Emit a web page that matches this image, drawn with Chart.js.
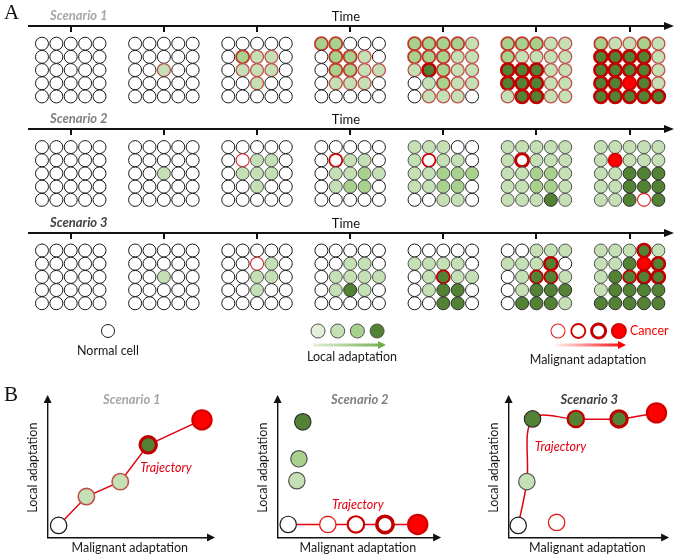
<!DOCTYPE html>
<html>
<head>
<meta charset="utf-8">
<script src="https://cdn.jsdelivr.net/npm/chart.js@4.4.0/dist/chart.umd.min.js"></script>
<style>
  html, body { margin: 0; padding: 0; background: #fff; }
  #wrap { position: relative; width: 678px; height: 556px; overflow: hidden; }
  canvas { position: absolute; }
</style>
</head>
<body>
<div id="wrap">
  <canvas id="chartA" width="678" height="372" style="left:0;top:0"></canvas>
  <canvas id="chartB1" width="225" height="176" style="left:0;top:380px"></canvas>
  <canvas id="chartB2" width="225" height="176" style="left:225px;top:380px"></canvas>
  <canvas id="chartB3" width="228" height="176" style="left:450px;top:380px"></canvas>
</div>
<script>
// ---- data: panel A, cell states per time step (5 rows x 5 cols) ----
// o normal, l/m/d light/mid/dark green, L/M light/mid green red rim,
// D dark green thick red rim, E dark green thin red rim,
// x/z/y red ring thin/medium/thick, R cancer
const timeSteps = [0, 1, 2, 3, 4, 5, 6];
const scenarioNames = ['Scenario 1', 'Scenario 2', 'Scenario 3'];
const scenarioColors = ['#a6a6a6', '#7f7f7f', '#404040'];

const blank = ['ooooo', 'ooooo', 'ooooo', 'ooooo', 'ooooo'];

const scenario1 = [
  blank,
  ['ooooo', 'ooooo', 'ooLoo', 'ooooo', 'ooooo'],
  ['ooooo', 'oMLLo', 'oLLLo', 'ooLoo', 'ooooo'],
  ['MMooo', 'oMMLo', 'oMMLL', 'oLLLo', 'ooooo'],
  ['MMMML', 'MMMLL', 'LDMLL', 'olMLL', 'oLLLo'],
  ['MMMLL', 'MLLLL', 'DDDLL', 'DDDLL', 'LDDLL'],
  ['MLLML', 'DDDDL', 'DDDDL', 'DDRDL', 'DDDDD']
];

const scenario2 = [
  blank,
  ['ooooo', 'ooooo', 'ooloo', 'ooooo', 'ooooo'],
  ['ooooo', 'oxllo', 'olllo', 'ooloo', 'ooooo'],
  ['ooooo', 'ozllo', 'ollml', 'olmmo', 'ooooo'],
  ['llloo', 'lzllo', 'llmmm', 'llmmo', 'oollo'],
  ['lllll', 'lylll', 'llmml', 'llmml', 'llldl'],
  ['lllll', 'lRlll', 'llddd', 'llddd', 'lldxd']
];

const scenario3 = [
  blank,
  ['ooooo', 'ooooo', 'ooloo', 'ooooo', 'ooooo'],
  ['ooooo', 'ooxlo', 'oollo', 'ooloo', 'ooooo'],
  ['ooooo', 'oollo', 'ollll', 'oldlo', 'ooooo'],
  ['ooooo', 'llllo', 'olEll', 'olddo', 'ooddo'],
  ['oolll', 'lllDo', 'olEEl', 'olddd', 'odddl'],
  ['lllDl', 'lldRD', 'ldEDD', 'ldddd', 'ddddd']
];

// ---- data: panel B trajectories ----
const b1Malignant = [0.67, 2.36, 4.42, 6.12, 9.39];
const b1Local = [0.86, 2.93, 4.0, 6.64, 8.43];
const b1Cells = ['o', 'L', 'L', 'D', 'R'];

const b2GreenMalignant = [1.57, 1.33, 1.2];
const b2GreenLocal = [8.29, 5.64, 4.07];
const b2GreenCells = ['d', 'm', 'l'];
const b2Malignant = [0.66, 3.13, 4.88, 6.69, 8.73];
const b2Local = [0.93, 0.93, 0.93, 0.93, 0.93];
const b2Cells = ['o', 'x', 'z', 'y', 'R'];

const b3Malignant = [0.61, 1.16, 1.52, 4.27, 7.01, 9.39];
const b3Local = [0.86, 4.0, 8.5, 8.5, 8.5, 8.93];
const b3Cells = ['o', 'l', 'd', 'E', 'D', 'R'];
const b3RingMalignant = [3.05];
const b3RingLocal = [1.07];
const b3RingCells = ['x'];

// ---- styles ----
const cellStyles = {
  o: { fill: '#ffffff', line: '#1a1a1a', w: 1 },
  l: { fill: '#c5e0b4', line: '#505050', w: 1 },
  m: { fill: '#a9d18e', line: '#505050', w: 1 },
  d: { fill: '#548235', line: '#2e2e2e', w: 1 },
  L: { fill: '#c5e0b4', line: '#c0504d', w: 1.3 },
  M: { fill: '#a9d18e', line: '#c0392b', w: 1.8 },
  D: { fill: '#548235', line: '#c00000', w: 2.6 },
  E: { fill: '#548235', line: '#c00000', w: 1.8 },
  x: { fill: '#ffffff', line: '#e02020', w: 1.1 },
  z: { fill: '#ffffff', line: '#d00000', w: 1.8 },
  y: { fill: '#ffffff', line: '#c00000', w: 3 },
  R: { fill: '#ff0000', line: '#d40000', w: 2 }
};
const styleOf = c => cellStyles[(c.raw && c.raw.code) || 'o'];

const FONT = 'Lato, "Open Sans", sans-serif';
const SCEN_GAP = 7.84;
const COL_STEP = 0.1544;
const X_MIN = -0.6574, X_MAX = 6.4176;
const Y_MIN = -2.59, Y_MAX = 24.17;

function gridPoints(grids, s) {
  const pts = [];
  grids.forEach((rows, t) => {
    rows.forEach((row, r) => {
      [...row].forEach((code, c) => {
        pts.push({ x: timeSteps[t] + (c - 2) * COL_STEP, y: s * SCEN_GAP + r, code });
      });
    });
  });
  return pts;
}

const timeAxes = {
  id: 'timeAxes',
  beforeDatasetsDraw(chart) {
    const { ctx, scales: { x, y } } = chart;
    ctx.save();
    scenarioNames.forEach((name, s) => {
      const ay = Math.round(y.getPixelForValue(s * SCEN_GAP)) - 18;
      ctx.strokeStyle = '#111';
      ctx.lineWidth = 2;
      ctx.beginPath();
      ctx.moveTo(28, ay);
      ctx.lineTo(666, ay);
      ctx.stroke();
      ctx.fillStyle = '#111';
      ctx.beginPath();
      ctx.moveTo(674, ay);
      ctx.lineTo(664, ay - 4);
      ctx.lineTo(664, ay + 4);
      ctx.closePath();
      ctx.fill();
      timeSteps.forEach(t => {
        const tx = Math.round(x.getPixelForValue(t));
        ctx.beginPath();
        ctx.moveTo(tx, ay);
        ctx.lineTo(tx, ay + 6);
        ctx.stroke();
      });
      ctx.textBaseline = 'middle';
      ctx.textAlign = 'left';
      ctx.font = 'italic bold 13px ' + FONT;
      ctx.fillStyle = scenarioColors[s];
      ctx.fillText(name, 50, ay - 10);
      ctx.textAlign = 'center';
      ctx.font = '13px ' + FONT;
      ctx.fillStyle = '#111';
      ctx.fillText('Time', 346, ay - 9.5);
    });
    ctx.font = '21px "Liberation Serif", serif';
    ctx.textAlign = 'left';
    ctx.fillText('A', 4, 13);
    ctx.restore();
  }
};

function dot(ctx, cx, cy, r, fill, line, w) {
  ctx.beginPath();
  ctx.arc(cx, cy, r, 0, Math.PI * 2);
  ctx.fillStyle = fill;
  ctx.fill();
  ctx.lineWidth = w;
  ctx.strokeStyle = line;
  ctx.stroke();
}

function gradArrow(ctx, x0, x1, y, c0, c1) {
  const g = ctx.createLinearGradient(x0, 0, x1, 0);
  g.addColorStop(0, c0);
  g.addColorStop(1, c1);
  ctx.fillStyle = g;
  ctx.fillRect(x0, y - 1.5, x1 - x0 - 7, 3);
  ctx.beginPath();
  ctx.moveTo(x1, y);
  ctx.lineTo(x1 - 8, y - 4);
  ctx.lineTo(x1 - 8, y + 4);
  ctx.closePath();
  ctx.fillStyle = c1;
  ctx.fill();
}

const legendKey = {
  id: 'legendKey',
  afterDraw(chart) {
    const ctx = chart.ctx;
    ctx.save();
    dot(ctx, 108, 331, 6.5, '#fff', '#1a1a1a', 1);
    ['#e2efda', '#c5e0b4', '#a9d18e', '#548235'].forEach((f, i) => {
      dot(ctx, 318 + i * 19.7, 331, 7, f, '#505050', 1);
    });
    gradArrow(ctx, 313, 386, 345, '#e2efda', '#70ad47');
    ['x', 'z', 'y', 'R'].forEach((k, i) => {
      const st = cellStyles[k];
      dot(ctx, 558 + i * 20.3, 331, 7, st.fill, st.line, st.w);
    });
    gradArrow(ctx, 555, 626, 345, '#fff4f4', '#ff0000');
    ctx.textBaseline = 'middle';
    ctx.font = '12.5px ' + FONT;
    ctx.fillStyle = '#1a1a1a';
    ctx.textAlign = 'center';
    ctx.fillText('Normal cell', 108, 351);
    ctx.fillText('Local adaptation', 352, 357);
    ctx.fillText('Malignant adaptation', 588, 360);
    ctx.textAlign = 'left';
    ctx.fillStyle = '#ff0000';
    ctx.fillText('Cancer', 630, 331);
    ctx.restore();
  }
};

new Chart(document.getElementById('chartA'), {
  type: 'scatter',
  data: {
    datasets: [scenario1, scenario2, scenario3].map((g, s) => ({
      data: gridPoints(g, s),
      pointRadius: 6.5,
      pointBackgroundColor: c => styleOf(c).fill,
      pointBorderColor: c => styleOf(c).line,
      pointBorderWidth: c => styleOf(c).w,
      clip: false
    }))
  },
  options: {
    responsive: false,
    animation: false,
    events: [],
    layout: { padding: 0 },
    scales: {
      x: { type: 'linear', display: false, min: X_MIN, max: X_MAX },
      y: { type: 'linear', display: false, reverse: true, min: Y_MIN, max: Y_MAX }
    },
    plugins: { legend: { display: false }, tooltip: { enabled: false } }
  },
  plugins: [timeAxes, legendKey]
});

// ---- panel B ----
function series(xs, ys, cells) {
  return xs.map((v, i) => ({ x: v, y: ys[i], code: cells[i] }));
}

function markDataset(points, withLine, tension) {
  return {
    data: points,
    showLine: withLine,
    borderColor: '#e3000f',
    borderWidth: 1.5,
    tension: tension || 0,
    pointRadius: c => (c.raw && c.raw.code === 'R') ? 9.5 : 8.2,
    pointBackgroundColor: c => styleOf(c).fill,
    pointBorderColor: c => styleOf(c).line,
    pointBorderWidth: c => styleOf(c).w * 1.2,
    clip: false
  };
}

function panelDecor(title, titleColor, trajAt, showB) {
  return {
    id: 'panelDecor',
    afterDraw(chart) {
      const { ctx, chartArea: a, scales: { x, y } } = chart;
      ctx.save();
      ctx.fillStyle = '#111';
      ctx.beginPath();
      ctx.moveTo(a.right + 3, a.bottom);
      ctx.lineTo(a.right - 5, a.bottom - 4);
      ctx.lineTo(a.right - 5, a.bottom + 4);
      ctx.closePath();
      ctx.fill();
      ctx.beginPath();
      ctx.moveTo(a.left, a.top - 3);
      ctx.lineTo(a.left - 4, a.top + 5);
      ctx.lineTo(a.left + 4, a.top + 5);
      ctx.closePath();
      ctx.fill();
      ctx.textBaseline = 'middle';
      ctx.textAlign = 'center';
      ctx.font = 'italic bold 13px ' + FONT;
      ctx.fillStyle = titleColor;
      ctx.fillText(title, (a.left + a.right) / 2 + 2, 20);
      ctx.font = 'italic 12.5px ' + FONT;
      ctx.fillStyle = '#e3000f';
      ctx.fillText('Trajectory', x.getPixelForValue(trajAt[0]), y.getPixelForValue(trajAt[1]));
      if (showB) {
        ctx.font = '21px "Liberation Serif", serif';
        ctx.fillStyle = '#111';
        ctx.textAlign = 'left';
        ctx.fillText('B', 4, 15);
      }
      ctx.restore();
    }
  };
}

function makePanel(id, datasets, padLeft, padRight, decor) {
  return new Chart(document.getElementById(id), {
    type: 'scatter',
    data: { datasets },
    options: {
      responsive: false,
      animation: false,
      events: [],
      layout: { padding: { left: padLeft, right: padRight, top: 18, bottom: 1 } },
      scales: {
        x: {
          type: 'linear', min: 0, max: 10,
          grid: { display: false, drawTicks: false },
          border: { display: true, color: '#111', width: 1.4 },
          ticks: { display: false },
          title: { display: true, text: 'Malignant adaptation', color: '#1a1a1a',
                   font: { family: FONT, size: 12.5 }, padding: { top: 2.6, bottom: 0 } }
        },
        y: {
          type: 'linear', min: 0, max: 10,
          grid: { display: false, drawTicks: false },
          border: { display: true, color: '#111', width: 1.4 },
          ticks: { display: false },
          title: { display: true, text: 'Local adaptation', color: '#1a1a1a',
                   font: { family: FONT, size: 12.5 }, padding: { top: 4, bottom: 6.8 } }
        }
      },
      plugins: { legend: { display: false }, tooltip: { enabled: false } }
    },
    plugins: [decor]
  });
}

makePanel('chartB1',
  [markDataset(series(b1Malignant, b1Local, b1Cells), true)],
  21.8, 13, panelDecor('Scenario 1', scenarioColors[0], [7.2, 5.0], true));

makePanel('chartB2',
  [markDataset(series(b2GreenMalignant, b2GreenLocal, b2GreenCells), false),
   markDataset(series(b2Malignant, b2Local, b2Cells), true)],
  26.8, 7, panelDecor('Scenario 2', scenarioColors[1], [5.0, 2.36], false));

makePanel('chartB3',
  [markDataset(series(b3Malignant, b3Local, b3Cells), true, 0.35),
   markDataset(series(b3RingMalignant, b3RingLocal, b3RingCells), false)],
  32.8, 6, panelDecor('Scenario 3', scenarioColors[2], [3.3, 6.5], false));
</script>
</body>
</html>
